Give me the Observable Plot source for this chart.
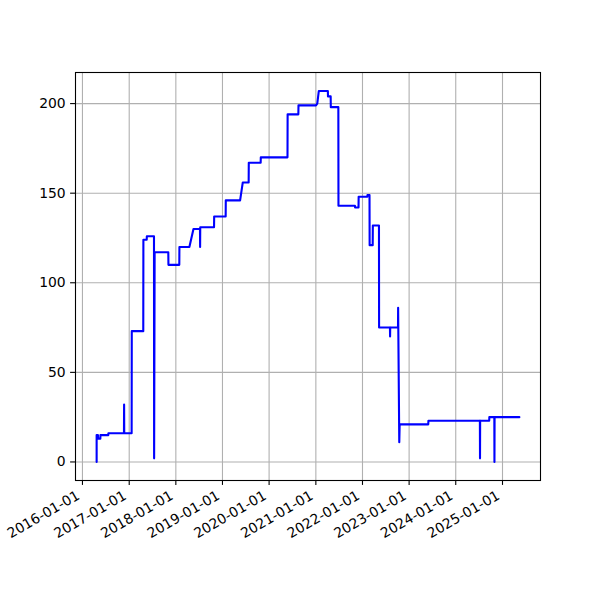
<!DOCTYPE html>
<html>
<head>
<meta charset="utf-8">
<script src="https://cdn.jsdelivr.net/npm/d3@7"></script>
<script src="https://cdn.jsdelivr.net/npm/@observablehq/plot@0.6"></script>
<style>
  html, body { margin: 0; padding: 0; background: white; }
  svg { display: block; }
</style>
</head>
<body>
<div id="chart"></div>
<script>
const dates = [
  "2016-04-21","2016-04-21","2016-05-01","2016-05-02","2016-05-20","2016-05-21",
  "2016-07-21","2016-07-22","2016-11-21","2016-11-22","2016-11-23",
  "2017-01-20","2017-01-21","2017-04-21","2017-04-22","2017-05-18","2017-05-19",
  "2017-07-14","2017-07-15","2017-07-19","2017-11-03","2017-11-04",
  "2018-01-28","2018-01-29","2018-04-17","2018-05-19","2018-07-09","2018-07-10","2018-07-11",
  "2018-10-27","2018-10-28","2019-01-26","2019-01-27","2019-05-19","2019-06-09",
  "2019-07-25","2019-07-26","2019-10-27","2019-10-28","2020-05-24","2020-05-25",
  "2020-08-17","2020-08-18","2021-01-02","2021-01-12","2021-01-24",
  "2021-04-05","2021-04-06","2021-04-27","2021-04-28","2021-06-26","2021-06-27",
  "2021-11-03","2021-11-04","2021-12-01","2021-12-02","2022-02-08","2022-02-09",
  "2022-02-25","2022-02-26","2022-03-22","2022-03-23","2022-05-10","2022-05-11",
  "2022-08-04","2022-08-05","2022-08-06","2022-10-06","2022-10-07","2022-10-16","2022-10-19",
  "2023-05-31","2023-06-01","2024-07-08","2024-07-09","2024-07-10",
  "2024-09-19","2024-09-20","2024-10-29","2024-10-30","2024-10-31","2025-05-13"
];
const values = [
  0,15,15,13,13,15,
  15,16,16,32,16,
  16,73,73,124,124,126,
  126,2,117,117,110,
  110,120,120,130,130,120,131,
  131,137,137,146,146,156,
  156,167,167,170,170,194,
  194,199,199,200,207,
  207,204,204,198,198,143,
  143,142,142,148,148,149,
  149,121,121,132,132,75,
  75,70,75,75,86,11,21,
  21,23,23,2,23,
  23,25,25,0,25,25
];
const xTickLabels = ["2016-01-01","2017-01-01","2018-01-01","2019-01-01","2020-01-01",
  "2021-01-01","2022-01-01","2023-01-01","2024-01-01","2025-01-01"];
const yTicks = [0, 50, 100, 150, 200];

const parse = d3.utcParse("%Y-%m-%d");
const data = dates.map((d, i) => ({date: parse(d), value: values[i]}));
const xTickDates = xTickLabels.map(parse);

const [x0, x1] = d3.extent(data, d => +d.date);
const xPad = (x1 - x0) * 0.05;
const xDomain = [new Date(x0 - xPad), new Date(x1 + xPad)];
const [y0, y1] = d3.extent(values);
const yPad = (y1 - y0) * 0.05;
const yDomain = [y0 - yPad, y1 + yPad];

const fmt = d3.utcFormat("%Y-%m-%d");

const chart = Plot.plot({
  width: 600,
  height: 600,
  marginLeft: 75,
  marginRight: 60,
  marginTop: 72,
  marginBottom: 120,
  style: {fontFamily: "DejaVu Sans", fontSize: "13.9px", background: "white", color: "black"},
  x: {type: "utc", domain: xDomain},
  y: {domain: yDomain},
  marks: [
    Plot.gridX(xTickDates, {stroke: "#b0b0b0", strokeOpacity: 1, strokeWidth: 1.1}),
    Plot.gridY(yTicks, {stroke: "#b0b0b0", strokeOpacity: 1, strokeWidth: 1.1}),
    Plot.line(data, {x: "date", y: "value", stroke: "#0000ff", strokeWidth: 2.1, strokeLinejoin: "round"}),
    Plot.frame({stroke: "black", strokeWidth: 1.1}),
    Plot.axisX(xTickDates, {tickFormat: fmt, tickRotate: -30, tickSize: 4.9, tickPadding: 8, strokeWidth: 1.1, label: null, fontSize: 13.9, textStroke: null}),
    Plot.axisX(xTickDates, {ticks: null, tickSize: 0, tickFormat: () => "", label: null}),
    Plot.axisY(yTicks, {tickSize: 4.9, tickPadding: 4.9, strokeWidth: 1.1, label: null, fontSize: 13.9})
  ]
});
// shift rotated x tick labels slightly left/down to match matplotlib's bbox anchoring
chart.querySelectorAll("g[aria-label='x-axis tick label'] text").forEach(t => {
  const tr = t.getAttribute("transform") || "";
  t.setAttribute("transform", "translate(-4,1) " + tr);
});
document.getElementById("chart").appendChild(chart);
</script>
</body>
</html>
